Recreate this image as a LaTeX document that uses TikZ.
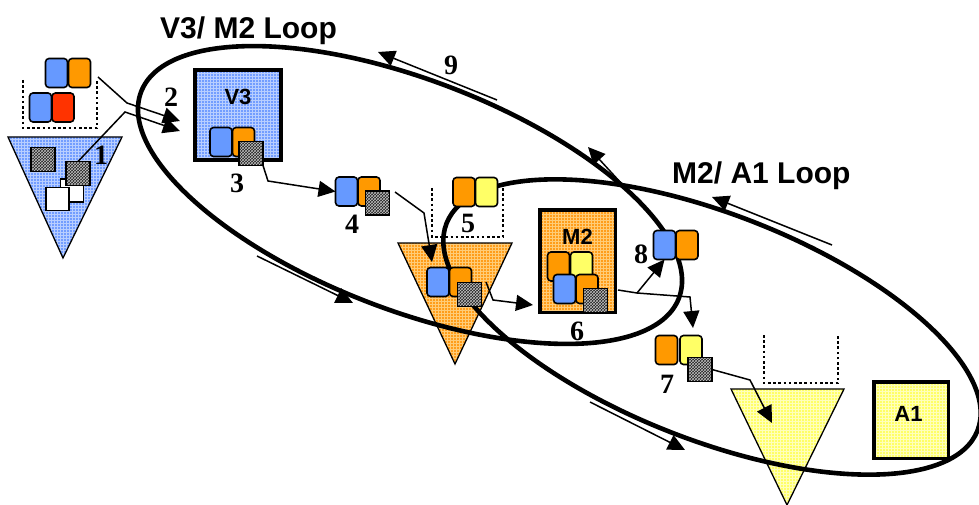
\documentclass[tikz,border=0pt]{standalone}
\usepackage{fontspec}
\newfontfamily\sansfam{Liberation Sans}
\newfontfamily\seriffam{Liberation Serif}
\usetikzlibrary{arrows.meta,patterns}
\definecolor{cblue}{HTML}{6699FF}
\definecolor{corange}{HTML}{FF9900}
\definecolor{cyellow}{HTML}{FFFF66}
\definecolor{cred}{HTML}{FF3300}
\definecolor{gblue}{HTML}{729DFF}
\definecolor{gbluel}{HTML}{B8CEFF}
\definecolor{gorange}{HTML}{FF9D1A}
\definecolor{gorangel}{HTML}{FFCC77}
\definecolor{gyellow}{HTML}{FFFF66}
\definecolor{gyellowl}{HTML}{FFFFBB}
\begin{document}
\begin{tikzpicture}[x=1pt,y=-1pt,
  cellbox/.style={draw, line width=1.6pt, rounded corners=3.5pt, minimum width=22pt, minimum height=29pt, inner sep=0pt, outer sep=0pt},
  checker/.style={draw, line width=1.3pt, preaction={fill=black!88}, pattern=crosshatch, pattern color=white!75!black, minimum size=24pt, inner sep=0pt, outer sep=0pt},
  whitesq/.style={draw, line width=1.2pt, fill=white, minimum size=23pt, inner sep=0pt},
  gridfill/.style 2 args={preaction={fill=#1}, pattern=grid, pattern color=#2},
  bigbox/.style={draw, line width=3.5pt, inner sep=0pt, outer sep=0pt},
  tri/.style={draw, line width=1.3pt, line join=miter},
  flow/.style={line width=1.5pt, -{Triangle[length=17pt,width=16pt]}},
  loopline/.style={line width=4.6pt},
  dotbox/.style={line width=2.6pt, dash pattern=on 2.6pt off 2.6pt},
  num/.style={font=\seriffam\bfseries\fontsize{28}{28}\selectfont, anchor=base, inner sep=0pt},
  lab/.style={font=\sansfam\bfseries\fontsize{22}{22}\selectfont, anchor=base, inner sep=0pt},
  title/.style={font=\sansfam\bfseries\fontsize{30}{30}\selectfont, anchor=base west, inner sep=0pt}
]
\useasboundingbox (0,0) rectangle (979,505);

% hoppers (triangles) and dotted boxes
\draw[tri, gridfill={gblue}{gbluel}] (8,137) -- (122,137) -- (63,258) -- cycle;
\draw[tri, gridfill={gorange}{gorangel}] (398,243) -- (512,243) -- (455,364) -- cycle;
\draw[tri, gridfill={gyellow}{gyellowl}] (731,389) -- (844,389) -- (787,505) -- cycle;
\draw[dotbox] (23,80) -- (23,128) -- (97,128) -- (97,80);
\draw[dotbox] (432,188) -- (432,237) -- (503,237) -- (503,188);
\draw[dotbox] (764,335) -- (764,383) -- (838,383) -- (838,335);

% machine boxes
\node[bigbox, gridfill={gblue}{gbluel}, minimum width=86pt, minimum height=90pt] (v3) at (238,115) {};
\node[bigbox, gridfill={gorange}{gorangel}, minimum width=75.5pt, minimum height=102.5pt] (m2) at (577.5,261) {};
\node[bigbox, gridfill={gyellow}{gyellowl}, minimum width=74.5pt, minimum height=76.5pt] (a1) at (911,420) {};
\node[lab] (v3l) at (238,105) {V3};
\node[lab] (m2l) at (577.5,244) {M2};
\node[lab] (a1l) at (908.5,421) {A1};

% loops
\begin{scope}[shift={(410,195)}, rotate=-21]
  \draw[loopline] (0,0) ellipse [x radius=288, y radius=115];
\end{scope}
\begin{scope}[shift={(712,327)}, rotate=-21.3]
  \draw[loopline] (0,0) ellipse [x radius=285, y radius=113];
\end{scope}

% stage 1 (blue hopper)
\node[cellbox, fill=cblue] (p1b) at (56.5,73) {};
\node[cellbox, fill=corange] (p1o) at (79.5,73) {};
\node[cellbox, fill=cblue] (p2b) at (40.5,107.5) {};
\node[cellbox, fill=cred] (p2r) at (63,107.5) {};
\node[whitesq] (w1) at (72,190.5) {};
\node[whitesq] (w2) at (57.5,199) {};
\node[checker] (k1) at (43,159.5) {};
\node[checker] (k2) at (78,173.5) {};

% V3 contents
\node[cellbox, fill=cblue] (v3b) at (221,142) {};
\node[cellbox, fill=corange] (v3o) at (243.5,142) {};
\node[checker] (k3) at (251,153.5) {};

% block 4
\node[cellbox, fill=cblue] (b4b) at (346.5,191.5) {};
\node[cellbox, fill=corange] (b4o) at (369,191.5) {};
\node[checker] (k4) at (377.5,203) {};

% block 5
\node[cellbox, fill=corange] (b5o) at (464,192) {};
\node[cellbox, fill=cyellow] (b5y) at (486.5,192) {};

% orange hopper contents
\node[cellbox, fill=cblue] (t2b) at (438,282) {};
\node[cellbox, fill=corange] (t2o) at (460.5,282) {};
\node[checker] (k5) at (469.5,294.5) {};

% M2 contents
\node[cellbox, fill=corange] (m2o1) at (558.5,266.5) {};
\node[cellbox, fill=cyellow] (m2y) at (581.5,266.5) {};
\node[cellbox, fill=cblue] (m2b) at (564.5,289) {};
\node[cellbox, fill=corange] (m2o2) at (587,289) {};
\node[checker] (k6) at (595.5,300.5) {};

% block 8
\node[cellbox, fill=cblue] (b8b) at (664.5,245) {};
\node[cellbox, fill=corange] (b8o) at (687,245) {};

% block 7
\node[cellbox, fill=corange] (b7o) at (666.5,350) {};
\node[cellbox, fill=cyellow] (b7y) at (691,350) {};
\node[checker] (k7) at (700,369.5) {};

% connector points
\coordinate (s1) at (98,77);
\coordinate (j1) at (127,103);
\coordinate (e1) at (180,121);
\coordinate (j2) at (125,112);
\coordinate (e2) at (180,131);
\coordinate (j3) at (268,181);
\coordinate (s4) at (395,192);
\coordinate (j4) at (424,213);
\coordinate (e4) at (432,262);
\coordinate (s5) at (486,282);
\coordinate (j5) at (493,300);
\coordinate (e5) at (533,305);
\coordinate (s6) at (618,290);
\coordinate (j6) at (637,293);
\coordinate (j6b) at (690,297);
\coordinate (e6b) at (693,328);
\coordinate (j7) at (750,380);
\coordinate (e7) at (772,423);
\coordinate (e8) at (588,147);
\coordinate (s9) at (497,100);
\coordinate (e9) at (378,52);
\coordinate (sm) at (832,245);
\coordinate (em) at (712,197);
\coordinate (sbl) at (257,256);
\coordinate (ebl) at (353,303);
\coordinate (sbr) at (590,402);
\coordinate (ebr) at (685,450);

% connectors
\draw[flow] (s1) -- (j1) -- (e1);
\draw[flow] (k2.north) -- (j2) -- (e2);
\draw[flow] (k3.south east) -- (j3) -- (b4b.west);
\draw[flow] (s4) -- (j4) -- (e4);
\draw[flow] (s5) -- (j5) -- (e5);
\draw[flow] (s6) -- (j6) -- (b8b.south);
\draw[flow] (j6) -- (j6b) -- (e6b);
\draw[flow] (k7.east) -- (j7) -- (e7);
\draw[flow] (b8b.north) -- (e8);
\draw[flow] (s9) -- (e9);
\draw[flow] (sm) -- (em);
\draw[flow] (sbl) -- (ebl);
\draw[flow] (sbr) -- (ebr);

% step numbers
\node[num] (n1) at (101,165) {1};
\node[num] (n2) at (171,107) {2};
\node[num] (n3) at (237,193) {3};
\node[num] (n4) at (352,233) {4};
\node[num] (n5) at (468,232) {5};
\node[num] (n6) at (577,340) {6};
\node[num] (n7) at (667,393) {7};
\node[num] (n8) at (641,263) {8};
\node[num] (n9) at (451,75) {9};

% titles
\node[title] (tv) at (160,39) {V3/ M2 Loop};
\node[title] (tm) at (672,183) {M2/ A1 Loop};
\end{tikzpicture}
\end{document}
